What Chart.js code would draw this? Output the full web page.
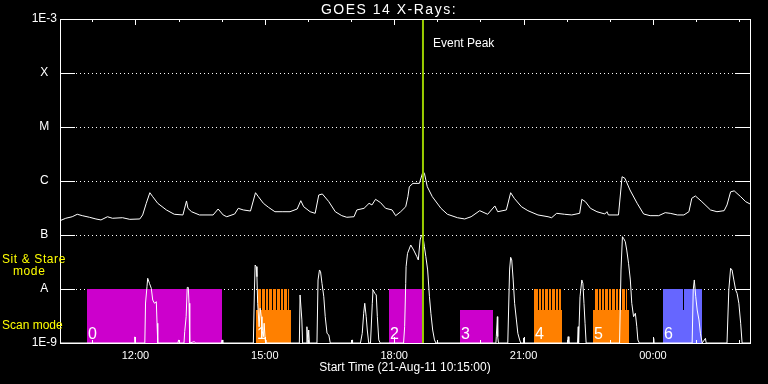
<!DOCTYPE html>
<html><head><meta charset="utf-8">
<script src="https://cdn.jsdelivr.net/npm/chart.js@4/dist/chart.umd.min.js"></script>
<style>html,body{margin:0;padding:0;background:#000;}canvas{display:block;}</style>
</head><body>
<canvas id="c" width="768" height="384"></canvas>
<script>
// ---- text ----
const TITLE = 'GOES 14 X-Rays:';
const X_TITLE = 'Start Time (21-Aug-11 10:15:00)';
const EVENT_LABEL = 'Event Peak';
const MODE_LABELS = ['Sit & Stare', 'mode', 'Scan mode'];

// ---- axes (x in minutes after 10:15) ----
const levelValues = [1e-9, 1e-8, 1e-7, 1e-6, 1e-5, 1e-4, 1e-3];
const levelLabels = ['1E-9', 'A', 'B', 'C', 'M', 'X', '1E-3'];
const hourTicks = [45,105,165,225,285,345,405,465,525,585,645,705,765,825,885,945];
const timeTickValues = [105, 285, 465, 645, 825];
const timeTickLabels = ['12:00', '15:00', '18:00', '21:00', '00:00'];

// ---- long channel (upper curve) ----
const longTime = [0,8,17,24,31,41,50,57,66,73,87,97,111,115,120,125,129,136,148,159,171,176,178,183,194,213,220,227,232,243,248,255,265,272,276,283,290,299,309,320,330,335,339,348,355,360,365,374,383,392,399,409,413,423,430,434,439,446,453,462,467,474,481,484,486,491,500,505,507,511,518,530,539,553,563,572,584,595,605,609,621,627,632,642,651,665,679,684,691,702,712,723,726,731,738,747,758,761,763,777,782,786,793,803,812,821,833,842,849,859,868,875,879,884,893,905,914,924,928,933,938,947,954,961];
const longFlux = [1.84e-7,2.04e-7,2.18e-7,2.42e-7,2.28e-7,2.13e-7,1.98e-7,1.90e-7,2.18e-7,2.04e-7,
2.09e-7,1.95e-7,1.98e-7,2.35e-7,3.86e-7,6.07e-7,5.12e-7,3.86e-7,2.91e-7,2.42e-7,
2.35e-7,4.27e-7,3.12e-7,2.70e-7,2.35e-7,2.35e-7,3.03e-7,2.35e-7,2.18e-7,2.45e-7,
3.12e-7,2.91e-7,2.78e-7,6.07e-7,5.12e-7,3.86e-7,3.26e-7,2.70e-7,2.70e-7,2.70e-7,
3.03e-7,4.32e-7,3.34e-7,2.70e-7,2.52e-7,5.51e-7,5.75e-7,4.14e-7,2.70e-7,2.28e-7,
2.13e-7,2.18e-7,2.91e-7,3.12e-7,3.86e-7,3.60e-7,4.58e-7,3.97e-7,3.12e-7,2.91e-7,
2.28e-7,2.70e-7,3.34e-7,5.12e-7,7.84e-7,9.04e-7,9.04e-7,1.49e-6,1.39e-6,7.84e-7,
5.12e-7,3.12e-7,2.42e-7,2.09e-7,1.98e-7,2.18e-7,2.82e-7,2.42e-7,3.45e-7,2.70e-7,
2.91e-7,6.07e-7,4.78e-7,3.34e-7,2.82e-7,2.35e-7,2.18e-7,2.09e-7,2.52e-7,2.42e-7,
2.35e-7,2.52e-7,4.58e-7,4.14e-7,3.12e-7,2.70e-7,2.45e-7,2.70e-7,2.35e-7,2.35e-7,
1.20e-6,1.12e-6,6.82e-7,3.86e-7,2.45e-7,2.28e-7,2.28e-7,2.59e-7,2.52e-7,2.35e-7,
2.35e-7,2.70e-7,4.78e-7,5.28e-7,4.14e-7,2.91e-7,2.70e-7,2.82e-7,3.60e-7,6.30e-7,
6.57e-7,5.12e-7,4.14e-7,3.70e-7];

// ---- short channel (lower curve) ----
const shortTime = [0,
103,104,105,
118,119,121,122,124.5,127,129,131.5,134,135,136,
164,165,166,
172.5,173.5,175.5,177,178.5,179.5,180.5,
187,188.5,
224.5,225.5,226.5,
269,270.5,271.5,273,274,275,277,278.5,280,281,283,284,285.5,286.5,
333,334,336.5,337.5,
343,343.5,345,346,347,
357.5,359,361,362.5,364.5,367,369,371.5,374,376,
406,406.5,407,
418,420.5,422.5,424,426,427.5,429.5,
432,434.5,435.5,438,440,441.5,443.5,445.5,
478,479.5,481,481.5,483.5,488,492,496.5,498.5,501,503,505,507,509,511.5,514,516,518.5,521,523,
606.5,607,608.5,609,610,
623,625.5,627,628.5,630.5,632.5,635,637,639.5,641,
644.5,645,646,
706,707,708,
720,721,721.5,723.5,726,727.5,729,730.5,732,
778.5,780.5,782.5,784,786.5,788.5,791,793.5,795.5,798,800.5,802.5,804,806,
825.5,826,826.5,
879.5,881,882.5,884.5,886.5,889,891,893.5,898,899,
928,930.5,933,935,937.5,940,942,944.5,947,949,
960];
const shortFlux = [1e-9,
1e-9,1.3e-9,1e-9,
1e-9,5.5e-9,1.1e-8,1.58e-8,1.27e-8,1.03e-8,6.25e-9,5.44e-9,5.82e-9,2.32e-9,1e-9,
1e-9,1.14e-9,1e-9,
1e-9,1.62e-9,3.07e-9,1.07e-8,1.07e-8,5.44e-9,1e-9,
1.06e-9,1e-9,
1e-9,1.14e-9,1e-9,
1e-9,9.6e-9,2.78e-8,2.59e-8,1.69e-8,5.44e-9,2.0e-9,4.39e-9,3.07e-9,1.74e-9,1.31e-9,2.32e-9,1.14e-9,1e-9,
1e-9,7.75e-9,2.67e-9,1e-9,
1e-9,2.0e-9,1e-9,1.74e-9,1e-9,
1e-9,1.47e-8,2.25e-8,2.09e-8,1.27e-8,7.2e-9,3.07e-9,1.51e-9,1.41e-9,1e-9,
1e-9,1.14e-9,1e-9,
1e-9,1.51e-9,3.55e-9,5.44e-9,3.07e-9,1.74e-9,1e-9,
1e-9,5.44e-9,9.6e-9,8.33e-9,7.75e-9,3.07e-9,1.14e-9,1e-9,
1e-9,2.0e-9,1.27e-8,2.59e-8,4.57e-8,6.53e-8,5.27e-8,3.97e-8,3.45e-8,8.1e-8,1.0e-7,9.3e-8,6.06e-8,3.97e-8,2.25e-8,7.2e-9,3.55e-9,1.74e-9,1.14e-9,1e-9,
1e-9,1.31e-9,3.07e-9,1.31e-9,1e-9,
1e-9,2.25e-8,3.86e-8,3.45e-8,1.47e-8,5.44e-9,2.67e-9,1.51e-9,1.14e-9,1e-9,
1e-9,1.24e-9,1e-9,
1e-9,1.31e-9,1e-9,
1e-9,2.0e-9,1e-9,7.2e-9,1.47e-8,1.27e-8,5.44e-9,2.32e-9,1e-9,
1e-9,2.25e-8,9.3e-8,8.7e-8,7.5e-8,5.27e-8,3.0e-8,1.47e-8,5.44e-9,3.07e-9,3.55e-9,2.0e-9,1.14e-9,1e-9,
1e-9,1.22e-9,1e-9,
1e-9,9.6e-9,1.47e-8,7.2e-9,4.08e-9,2.67e-9,1.51e-9,1e-9,1.22e-9,1e-9,
1e-9,9.6e-9,2.42e-8,2.25e-8,1.47e-8,9.6e-9,8.33e-9,5.44e-9,2.32e-9,1e-9,
1e-9];

// ---- event peak (minutes after 10:15) ----
const eventTime = 505;

// ---- observation blocks ----
const barLabels = ['0','1','2','3','4','5','6'];
const barStart = [37, 272, 458, 556, 660, 741, 839];
const barEnd = [225, 321, 503, 603, 699, 791, 893];
const barSolidTop = [1e-8, 4.1e-9, 1e-8, 4.1e-9, 4.1e-9, 4.1e-9, 1e-8];
const barStripeTop = [null, 1e-8, null, null, 1e-8, 1e-8, null];
const stripeStart = [null, 276, null, null, 660, 744, null];
const stripeEnd = [null, 319, null, null, 699, 789, null];
const barGaps = [[], [280,285,290,295,300.5,305.5,310.5,316], [], [],
  [665,669.5,674,678.5,683.5,688,692.5,697], [748,752.5,757,762,766.5,771.5,776,781,786], [867]];
const barColors = ['#CC00CC','#FF8000','#CC00CC','#CC00CC','#FF8000','#FF8000','#6666FF'];

const FONT = '"Liberation Sans", Arial, sans-serif';

const decor = {
  id: 'decor',
  beforeDraw(chart) {
    const c = chart.ctx; c.save(); c.fillStyle = '#000'; c.fillRect(0, 0, chart.width, chart.height); c.restore();
  },
  beforeDatasetsDraw(chart) {
    const {ctx, chartArea: a, scales: {x, y}} = chart;
    ctx.save();
    ctx.strokeStyle = '#fff'; ctx.lineWidth = 1;
    levelValues.forEach(v => {
      const py = Math.round(y.getPixelForValue(v)) + 0.5;
      ctx.setLineDash([1, 3]);
      ctx.beginPath(); ctx.moveTo(a.left + 16, py); ctx.lineTo(a.right - 15, py); ctx.stroke();
      ctx.setLineDash([]);
      ctx.beginPath(); ctx.moveTo(a.left, py); ctx.lineTo(a.left + 15, py);
      ctx.moveTo(a.right - 15, py); ctx.lineTo(a.right, py); ctx.stroke();
    });
    const yb = Math.round(y.getPixelForValue(1e-9));
    barStart.forEach((s, i) => {
      const x0 = Math.round(x.getPixelForValue(s)), x1 = Math.round(x.getPixelForValue(barEnd[i]));
      const ys = Math.round(y.getPixelForValue(barSolidTop[i]));
      ctx.fillStyle = barColors[i];
      ctx.fillRect(x0, ys, x1 - x0, yb - ys);
      if (barStripeTop[i] !== null) {
        const sx0 = Math.round(x.getPixelForValue(stripeStart[i])), sx1 = Math.round(x.getPixelForValue(stripeEnd[i]));
        const yt = Math.round(y.getPixelForValue(barStripeTop[i]));
        ctx.fillRect(sx0, yt, sx1 - sx0, ys - yt);
      }
      ctx.fillStyle = '#000';
      const gt = Math.round(y.getPixelForValue(1e-8)), gb = Math.round(y.getPixelForValue(4.1e-9));
      barGaps[i].forEach(g => {
        ctx.fillRect(Math.round(x.getPixelForValue(g)), gt, 1, gb - gt);
      });
      ctx.fillStyle = '#fff';
      ctx.font = '16px ' + FONT;
      ctx.textAlign = 'left'; ctx.textBaseline = 'alphabetic';
      ctx.fillText(barLabels[i], x0 + 1, yb - 4);
    });
    ctx.restore();
  },
  afterDatasetsDraw(chart) {
    const {ctx, chartArea: a, scales: {x, y}} = chart;
    ctx.save();
    ctx.strokeStyle = '#fff'; ctx.lineWidth = 1;
    ctx.strokeRect(a.left + 0.5, a.top + 0.5, a.right - a.left, a.bottom - a.top);
    ctx.beginPath();
    hourTicks.forEach(v => {
      const px = Math.round(x.getPixelForValue(v)) + 0.5;
      const len = timeTickValues.includes(v) ? 6 : 3;
      ctx.moveTo(px, a.top); ctx.lineTo(px, a.top + len);
      ctx.moveTo(px, a.bottom); ctx.lineTo(px, a.bottom - len);
    });
    ctx.stroke();
    // title
    ctx.fillStyle = '#fff'; ctx.textAlign = 'center'; ctx.textBaseline = 'alphabetic';
    ctx.font = '14px ' + FONT;
    ctx.letterSpacing = '1.5px';
    ctx.fillText(TITLE, (a.left + a.right) / 2 - 16, 14);
    ctx.letterSpacing = '0px';
    ctx.textAlign = 'left';
    ctx.font = '12px ' + FONT;
    ctx.fillText(EVENT_LABEL, x.getPixelForValue(eventTime) + 10, 47);
    ctx.fillStyle = '#FFFF00';
    ctx.font = '12px ' + FONT;
    ctx.letterSpacing = '0.6px';
    ctx.fillText(MODE_LABELS[0], 2, 263);
    ctx.fillText(MODE_LABELS[1], 13, 275);
    ctx.letterSpacing = '0px';
    ctx.fillText(MODE_LABELS[2], 2, 329);
    ctx.restore();
  }
};

new Chart(document.getElementById('c'), {
  type: 'line',
  data: {
    datasets: [
      { data: [{x: eventTime, y: 1e-3}, {x: eventTime, y: 1e-9}], borderColor: '#99CC00', borderWidth: 2, order: 0 },
      { data: longTime.map((t, i) => ({x: t, y: longFlux[i]})), borderColor: '#FFFFFF', borderWidth: 1, order: 1 },
      { data: shortTime.map((t, i) => ({x: t, y: shortFlux[i]})), borderColor: '#FFFFFF', borderWidth: 1, order: 2 }
    ]
  },
  options: {
    responsive: false, animation: false, devicePixelRatio: 1,
    elements: { point: { radius: 0 }, line: { tension: 0 } },
    layout: { padding: { left: 0, right: 18, top: 19, bottom: 0 } },
    plugins: { legend: { display: false }, tooltip: { enabled: false }, title: { display: false } },
    scales: {
      x: {
        type: 'linear', min: 0, max: 960,
        afterBuildTicks: s => { s.ticks = hourTicks.map(v => ({value: v})); },
        afterFit: s => { s.height = 41; },
        grid: { display: false, drawTicks: false }, border: { display: false },
        ticks: { autoSkip: false, maxRotation: 0, minRotation: 0, padding: 6, color: '#fff', font: { family: FONT, size: 11 },
          callback: v => { const k = timeTickValues.indexOf(v); return k >= 0 ? timeTickLabels[k] : ''; } },
        title: { display: true, text: X_TITLE, color: '#fff', font: { family: FONT, size: 12 }, padding: { top: 0, bottom: 8.8 } }
      },
      y: {
        type: 'logarithmic', min: 1e-9, max: 1e-3,
        afterBuildTicks: s => { s.ticks = levelValues.map(v => ({value: v})); },
        afterFit: s => { s.width = 60; },
        grid: { display: false, drawTicks: false }, border: { display: false },
        ticks: { crossAlign: 'center', padding: 3, color: '#fff', font: { family: FONT, size: 12 }, autoSkip: false,
          callback: v => { const k = levelValues.findIndex(l => Math.abs(Math.log10(l) - Math.log10(v)) < 0.01); return k >= 0 ? levelLabels[k] : ''; } }
      }
    }
  },
  plugins: [decor]
});
</script>
</body></html>
